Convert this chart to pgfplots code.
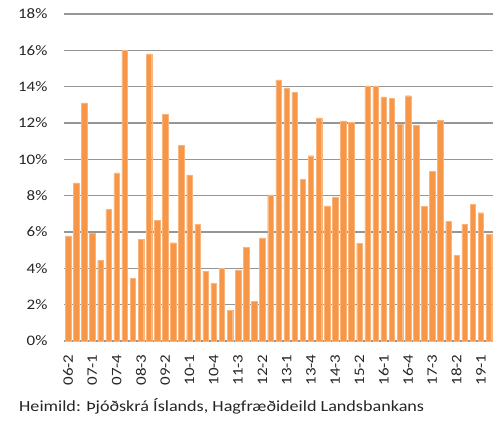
\documentclass[border=0pt]{standalone}
\usepackage{pgfplots}
\pgfplotsset{compat=1.18}
\usepackage{fontspec}
\setmainfont{Carlito}
\newfontfamily\wide[FakeStretch=1.17]{Carlito}
\definecolor{barorange}{HTML}{F79646}
\definecolor{gridgray}{RGB}{150,150,150}
\begin{document}
\begin{tikzpicture}
\path[use as bounding box] (0,0) rectangle (502pt,430pt);
\begin{axis}[
  at={(64pt,89pt)}, anchor=south west,
  scale only axis, width=429pt, height=327pt,
  xmin=-0.5, xmax=52.5, ymin=0, ymax=18,
  ytick={0,2,...,18},
  yticklabel={\pgfmathprintnumber{\tick}\%},
  /pgf/number format/assume math mode=true,
  ymajorgrids, grid style={gridgray, line width=1.3pt},
  axis y line*=left, y axis line style={draw=none},
  axis x line*=bottom,
  x axis line style={gridgray, line width=1.3pt, -},
  major tick length=0pt,
  xtick={0,3,...,51},
  xticklabels={06-2,07-1,07-4,08-3,09-2,10-1,10-4,11-3,12-2,13-1,13-4,14-3,15-2,16-1,16-4,17-3,18-2,19-1},
  xticklabel style={rotate=90, anchor=east, font=\wide\fontsize{14.5}{16}\selectfont, text=black!85, xshift=-10pt},
  yticklabel style={font=\wide\fontsize{14.5}{16}\selectfont, text=black!85, xshift=-13pt},
  ytick style={draw=none}, xtick style={draw=none},
  ybar, bar width=0.68,
  clip=false,
]
\addplot[fill=barorange, draw=barorange!70!white, line width=0.3pt] coordinates {
(0,5.78)(1,8.70)(2,13.11)(3,5.91)(4,4.44)(5,7.24)(6,9.26)(7,16.0)(8,3.46)(9,5.61)
(10,15.81)(11,6.65)(12,12.48)(13,5.41)(14,10.76)(15,9.15)(16,6.44)(17,3.85)(18,3.19)(19,4.0)
(20,1.70)(21,3.91)(22,5.15)(23,2.19)(24,5.67)(25,8.04)(26,14.37)(27,13.93)(28,13.69)(29,8.91)
(30,10.20)(31,12.28)(32,7.44)(33,7.93)(34,12.11)(35,12.04)(36,5.37)(37,14.04)(38,14.04)(39,13.44)
(40,13.37)(41,11.94)(42,13.5)(43,11.87)(44,7.41)(45,9.33)(46,12.15)(47,6.57)(48,4.70)(49,6.44)
(50,7.54)(51,7.06)(52,5.87)
};
\end{axis}
\node[anchor=base west, font=\wide\fontsize{15.5}{17}\selectfont, text=black!85, inner sep=0pt] at (19pt,18pt) {Heimild: Þjóðskrá Íslands, Hagfræðideild Landsbankans};
\end{tikzpicture}
\end{document}
